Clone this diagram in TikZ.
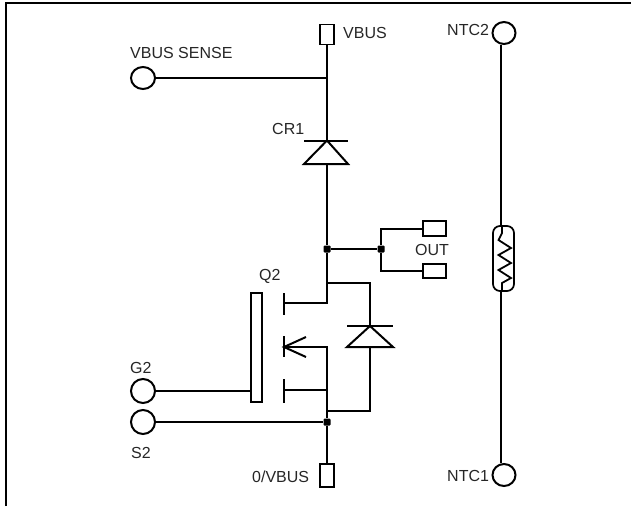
\documentclass[tikz,border=0pt]{standalone}
\usepackage{fontspec}
\setmainfont{Liberation Sans}
\usetikzlibrary{positioning,shapes,calc}
\tikzset{
    wire/.style={black,line width=2pt},
    term/.style={draw,ellipse,line width=2pt,minimum width=24pt,minimum height=22pt,inner sep=0pt},
    pad/.style={draw,rectangle,line width=1.7pt,inner sep=0pt},
    dot/.style={fill,rectangle,rounded corners=1pt,minimum size=7pt,inner sep=0pt},
    lbl/.style={anchor=base west,inner sep=0pt,font=\fontsize{16}{18}\selectfont,text=black!85}
}
\begin{document}
\begin{tikzpicture}[x=1pt,y=-1pt]
        \useasboundingbox(0,0)rectangle(631,506);
        \draw[black,line width=2.6pt](6,506)--(6,3)--(631,3);

        % terminals and pads
        \node[term](sense)at(143,78){};
        \node[term,minimum height=24pt](g2)at(143,391){};
        \node[term,minimum height=24pt](s2)at(143,422){};
        \node[term,minimum width=23pt](ntc2)at(504,33){};
        \node[term,minimum width=23pt](ntc1)at(504,475){};
        \node[pad,minimum width=14pt,minimum height=20pt](vbus)at(327,34.5){};
        \node[pad,minimum width=14pt,minimum height=23pt](gnd)at(327,475.5){};
        \node[pad,minimum width=23pt,minimum height=15pt](out1)at(434.5,228.5){};
        \node[pad,minimum width=23pt,minimum height=14pt](out2)at(434.5,271){};
        \node[pad,minimum width=11pt,minimum height=109pt](gate)at(256.5,347.5){};
        \node[draw,rectangle,rounded corners=7pt,line width=1.7pt,minimum width=21pt,minimum height=65pt,inner sep=0pt](body)at(503.5,258.5){};

        % junctions
        \node[dot](j1)at(327,249){};
        \node[dot](j2)at(381,249){};
        \node[dot](j3)at(327,422){};

        % texts
        \node[lbl](tsense)at(130,58){VBUS SENSE};
        \node[lbl](tvbus)at(343,38){VBUS};
        \node[lbl](tcr)at(272,134){CR1};
        \node[lbl](tout)at(415,255){OUT};
        \node[lbl](tq)at(259,280){Q2};
        \node[lbl](tg)at(130,373){G2};
        \node[lbl](ts)at(131,458){S2};
        \node[lbl](tgnd)at(252,482){0/VBUS};
        \node[lbl](tntc2)at(447,35){NTC2};
        \node[lbl](tntc1)at(447,481){NTC1};

        % CR1
        \coordinate(crA)at(327,140.5);
        \coordinate(crB)at(327,164);
        \draw[wire](304,140.5)--(348,140.5);
        \draw[wire](crA)--(304,164)--(348,164)--cycle;
        \draw[wire](vbus.south)--(crA);
        \draw[wire](crB)--(j1);
        \draw[wire](sense.east)--(sense.east-|vbus.south);

        % OUT
        \draw[wire](j1)--(j2);
        \draw[wire](out1.west)-|(j2);
        \draw[wire](out2.west)-|(j2);

        % Q2
        \coordinate(dr)at(327,303);
        \coordinate(sr)at(327,347);
        \coordinate(ch)at(327,390);
        \draw[wire](j1)--(dr)--(284,303);
        \draw[wire](284,293)--(284,315);
        \draw[wire](284,336)--(284,357);
        \draw[wire](284,379)--(284,403);
        \draw[wire](306,337)--(284,347)--(306,357);
        \draw[wire](284,347)--(sr)--(j3);
        \draw[wire](284,390)--(ch);
        \draw[wire](g2.east)--(gate.west|-g2.east);

        % body diode
        \coordinate(bdA)at(370,326);
        \coordinate(bdB)at(370,347);
        \draw[wire](347,326)--(393,326);
        \draw[wire](bdA)--(347,347)--(393,347)--cycle;
        \draw[wire](327,283)-|(bdA);
        \draw[wire](bdB)|-(327,411);

        \draw[wire](s2.east)--(j3);
        \draw[wire](j3)--(gnd.north);

        % NTC
        \draw[wire](ntc2.255)--(ntc2.255|-body.north);
        \draw[wire](ntc1.105)--(ntc1.105|-body.south);
        \draw[wire,line width=1.8pt](502,226)--(502,233)--(498.5,240)--(511,248)--(498.5,255)--(511,263)--(498.5,270)--(511,278)--(502,283)--(502,291);
    \end{tikzpicture}
\end{document}
